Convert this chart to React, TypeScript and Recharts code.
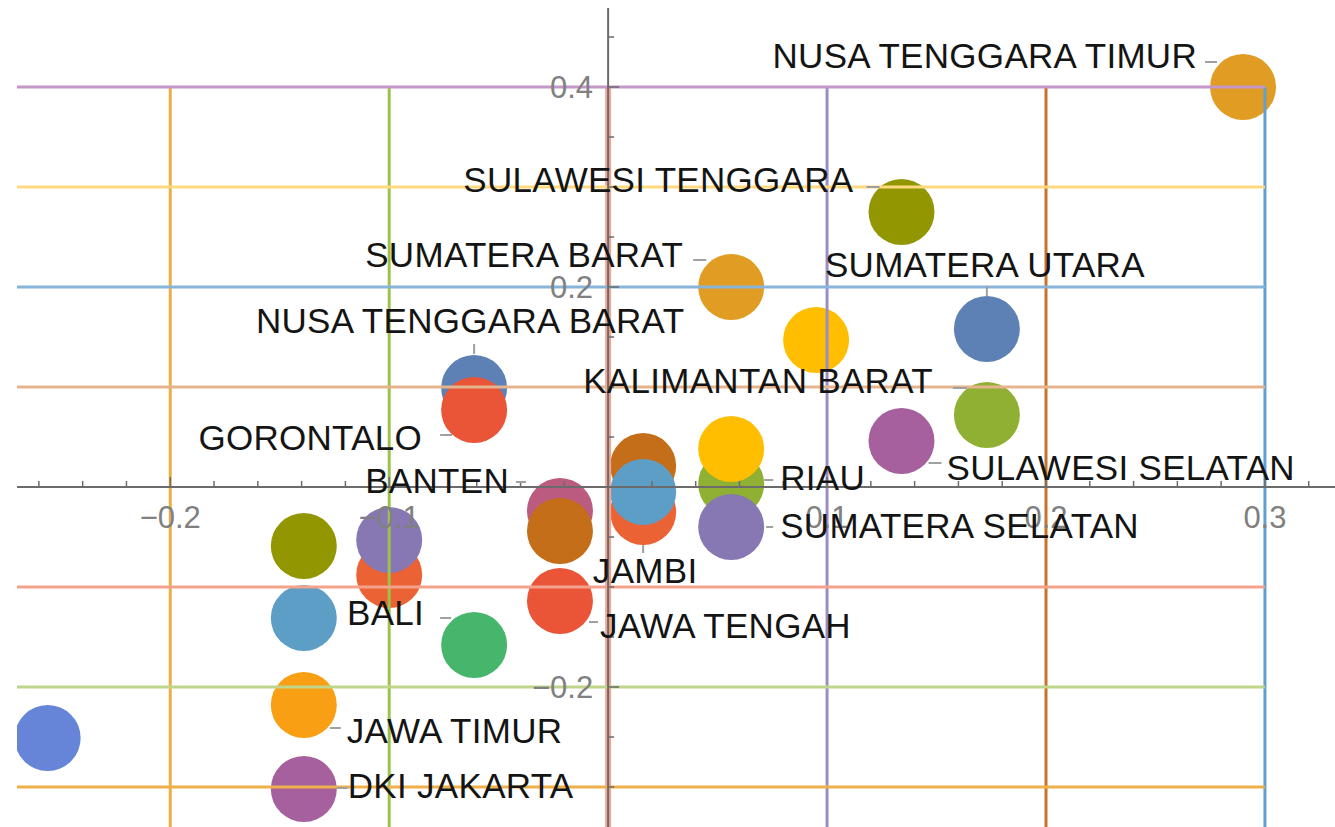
import React from 'react';
import { ScatterChart, Scatter, XAxis, YAxis } from 'recharts';

// ---------- data ----------
const pointLabels = [
  'NUSA TENGGARA TIMUR', 'SULAWESI TENGGARA', 'SUMATERA BARAT', '', 'SUMATERA UTARA',
  'KALIMANTAN BARAT', 'SULAWESI SELATAN', 'NUSA TENGGARA BARAT', 'GORONTALO', 'BANTEN',
  '', 'JAWA TENGAH', '', 'JAMBI', '', 'RIAU', '', 'SUMATERA SELATAN', '', '', '', '',
  'BALI', 'JAWA TIMUR', 'DKI JAKARTA', '',
];
const pointX = [
  0.290, 0.134, 0.0562, 0.095, 0.173,
  0.173, 0.134, -0.0612, -0.0612, -0.022,
  -0.022, -0.022, 0.016, 0.016, 0.016, 0.0562, 0.0562, 0.0562, -0.139, -0.100, -0.100, -0.139,
  -0.0612, -0.139, -0.139, -0.256,
];
const pointY = [
  0.400, 0.275, 0.200, 0.147, 0.158,
  0.072, 0.046, 0.099, 0.077, -0.024,
  -0.044, -0.114, 0.021, -0.025, -0.005, 0.003, 0.038, -0.040, -0.059, -0.088, -0.053, -0.131,
  -0.158, -0.218, -0.302, -0.251,
];
const pointColors = [
  '#E19C24', '#929600', '#E19C24', '#FFBF00', '#5E81B5',
  '#8FB032', '#A5609D', '#5E81B5', '#E95536', '#BC5B80',
  '#C56E1A', '#E95536', '#C56E1A', '#EB6235', '#5D9EC7', '#8FB032', '#FFBF00', '#8778B3', '#929600', '#EB6235', '#8778B3', '#5D9EC7',
  '#47B66D', '#F89F13', '#A5609D', '#6685D9',
];

const xDomain = [-0.27, 0.332];
const yDomain = [-0.34, 0.479];

const vGridValues = [-0.2, -0.1, 0, 0.1, 0.2, 0.3];
const vGridColors = ['#EBAE45', '#9DC24A', '#F3A695', '#9C8CC8', '#C8732A', '#5EA0D2'];
const vGridWidths = [3, 3, 6, 3, 3, 3];
const hGridValues = [0.4, 0.3, 0.2, 0.1, -0.1, -0.2, -0.3];
const hGridColors = ['#C596C8', '#FFD980', '#88B4DA', '#E5B48C', '#F4A28C', '#BFD58A', '#EDB04A'];
const gridXEnd = 0.3;
const gridYEnd = 0.4;

const xMajorTicks = [-0.2, -0.1, 0.1, 0.2, 0.3];
const xTickLabels = ['\u22120.2', '\u22120.1', '0.1', '0.2', '0.3'];
const xMinorTicks = [-0.26, -0.24, -0.22, -0.18, -0.16, -0.14, -0.12, -0.08, -0.06, -0.04, -0.02,
  0.02, 0.04, 0.06, 0.08, 0.12, 0.14, 0.16, 0.18, 0.22, 0.24, 0.26, 0.28, 0.32];
const yMajorTicks = [0.4, 0.2, -0.2];
const yTickLabels = ['0.4', '0.2', '\u22120.2'];
const yMinorTicks = [0.45, 0.35, 0.3, 0.25, 0.15, 0.1, 0.05, -0.05, -0.1, -0.15, -0.25, -0.3];

// ---------- label placement (layout, px offsets from point centre) ----------
type Place = { anchor: 'start' | 'middle' | 'end'; tx: number; ty: number; lead: number[] };
const placement: Record<string, Place> = {
  'NUSA TENGGARA TIMUR': { anchor: 'end', tx: -46, ty: -19, lead: [-38, -25, -26, -25] },
  'SULAWESI TENGGARA': { anchor: 'end', tx: -48, ty: -20, lead: [-35, -25, -22, -25] },
  'SUMATERA BARAT': { anchor: 'end', tx: -48, ty: -20, lead: [-38, -27, -25, -27] },
  'SUMATERA UTARA': { anchor: 'middle', tx: -2, ty: -52, lead: [0, -43, 0, -33] },
  'NUSA TENGGARA BARAT': { anchor: 'middle', tx: -4, ty: -55, lead: [0, -44, 0, -34] },
  'KALIMANTAN BARAT': { anchor: 'end', tx: -54, ty: -22, lead: [-34, -27, -20, -27] },
  'GORONTALO': { anchor: 'end', tx: -52, ty: 40, lead: [-34, 25, -22, 25] },
  'BANTEN': { anchor: 'end', tx: -51, ty: -18, lead: [-44, -29, -34, -29] },
  'SULAWESI SELATAN': { anchor: 'start', tx: 45, ty: 39, lead: [27, 22, 40, 22] },
  'RIAU': { anchor: 'start', tx: 49, ty: 6, lead: [33, -4, 42, -4] },
  'SUMATERA SELATAN': { anchor: 'start', tx: 49, ty: 11, lead: [35, 0, 42, 0] },
  'JAMBI': { anchor: 'middle', tx: 2, ty: 71, lead: [0, 33, 0, 41] },
  'JAWA TENGAH': { anchor: 'start', tx: 40, ty: 37, lead: [29, 21, 38, 21] },
  'BALI': { anchor: 'end', tx: -50, ty: -20, lead: [-34, -27, -23, -27] },
  'JAWA TIMUR': { anchor: 'start', tx: 43, ty: 38, lead: [26, 23, 37, 23] },
  'DKI JAKARTA': { anchor: 'start', tx: 44, ty: 9, lead: [33, -1, 44, -1] },
};

const FONT = '"Liberation Sans", Arial, sans-serif';
const AXIS = '#6b6b6b';
const TICKTEXT = '#808080';

const points = pointX.map((x, i) => ({ x, y: pointY[i], color: pointColors[i], label: pointLabels[i] }));
const labelled = points.filter((p) => p.label);

const xTicks = [
  ...xMinorTicks.map((v) => ({ x: v, y: 0, major: false, text: '' })),
  ...xMajorTicks.map((v, i) => ({ x: v, y: 0, major: true, text: xTickLabels[i] })),
];
const yTicks = [
  ...yMinorTicks.map((v) => ({ x: 0, y: v, major: false, text: '' })),
  ...yMajorTicks.map((v, i) => ({ x: 0, y: v, major: true, text: yTickLabels[i] })),
];

const empty = () => <g />;

const Dot = (p: any) => <circle cx={p.cx} cy={p.cy} r={33} fill={p.payload.color} />;

const XTick = (p: any) => {
  const len = p.payload.major ? 10 : 6;
  return (
    <g>
      <line x1={p.cx} y1={p.cy} x2={p.cx} y2={p.cy - len} stroke={AXIS} strokeWidth={1.5} />
      {p.payload.text ? (
        <text x={p.cx} y={p.cy + 41} textAnchor="middle" fontFamily={FONT} fontSize={31} fill={TICKTEXT}>
          {p.payload.text}
        </text>
      ) : null}
    </g>
  );
};

const YTick = (p: any) => {
  const len = p.payload.major ? 11 : 6;
  return (
    <g>
      <line x1={p.cx} y1={p.cy} x2={p.cx + len} y2={p.cy} stroke={AXIS} strokeWidth={1.5} />
      {p.payload.text ? (
        <text x={p.cx - 15} y={p.cy + 11} textAnchor="end" fontFamily={FONT} fontSize={31} fill={TICKTEXT}>
          {p.payload.text}
        </text>
      ) : null}
    </g>
  );
};

const Callout = (p: any) => {
  const pl = placement[p.payload.label];
  if (!pl) return <g />;
  const [a, b, c, d] = pl.lead;
  return (
    <g>
      <line x1={p.cx + a} y1={p.cy + b} x2={p.cx + c} y2={p.cy + d} stroke="#a0a0a0" strokeWidth={2} />
      <text x={p.cx + pl.tx} y={p.cy + pl.ty} textAnchor={pl.anchor} fontFamily={FONT} fontSize={35} fill="#141414" letterSpacing={0.3}>
        {p.payload.label}
      </text>
    </g>
  );
};

export default function App() {
  return (
    <div style={{ position: 'absolute', left: 0, top: 0, width: 1335, height: 827, background: '#fff' }}>
      <ScatterChart width={1335} height={827} margin={{ top: 8, right: 0, bottom: 0, left: 17 }}>
        <XAxis type="number" dataKey="x" domain={xDomain} hide allowDataOverflow />
        <YAxis type="number" dataKey="y" domain={yDomain} hide allowDataOverflow />
        <Scatter data={points} shape={Dot} isAnimationActive={false} />
        {vGridValues.map((v, i) => (
          <Scatter
            key={'v' + i}
            data={[{ x: v, y: gridYEnd }, { x: v, y: yDomain[0] }]}
            line={{ stroke: vGridColors[i], strokeWidth: vGridWidths[i] }}
            shape={empty}
            isAnimationActive={false}
          />
        ))}
        {hGridValues.map((v, i) => (
          <Scatter
            key={'h' + i}
            data={[{ x: xDomain[0], y: v }, { x: gridXEnd, y: v }]}
            line={{ stroke: hGridColors[i], strokeWidth: 3 }}
            shape={empty}
            isAnimationActive={false}
          />
        ))}
        <Scatter
          data={[{ x: xDomain[0], y: 0 }, { x: xDomain[1], y: 0 }]}
          line={{ stroke: AXIS, strokeWidth: 2 }}
          shape={empty}
          isAnimationActive={false}
        />
        <Scatter
          data={[{ x: 0, y: yDomain[1] }, { x: 0, y: yDomain[0] }]}
          line={{ stroke: AXIS, strokeWidth: 2 }}
          shape={empty}
          isAnimationActive={false}
        />
        <Scatter data={xTicks} shape={XTick} isAnimationActive={false} />
        <Scatter data={yTicks} shape={YTick} isAnimationActive={false} />
        <Scatter data={labelled} shape={Callout} isAnimationActive={false} />
      </ScatterChart>
    </div>
  );
}
